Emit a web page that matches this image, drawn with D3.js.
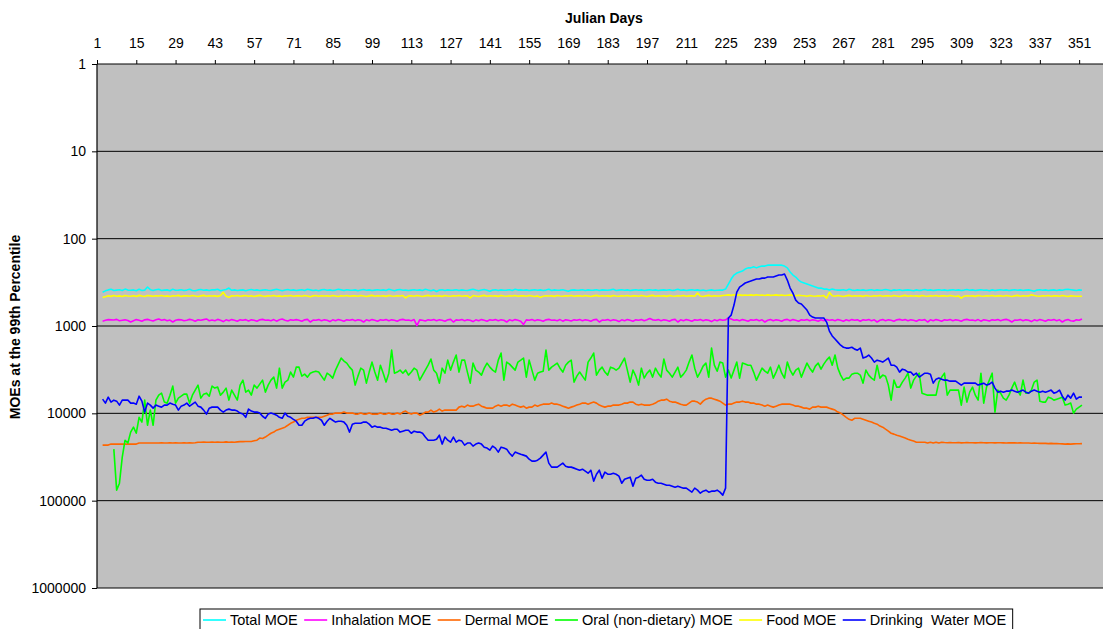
<!DOCTYPE html>
<html><head><meta charset="utf-8">
<script src="https://cdn.jsdelivr.net/npm/d3@7/dist/d3.min.js"></script>
<style>
body{margin:0;background:#fff}
svg text{font-family:"Liberation Sans",Arial,sans-serif;fill:#000}
</style>
</head><body>
<svg id="chart" width="1103" height="629"></svg>
<script>
// ---------- data ----------
const days = d3.range(3, 353); // Julian day of each value (days 3..352)
const xTickLabels = [1,15,29,43,57,71,85,99,113,127,141,155,169,183,197,211,225,239,253,267,281,295,309,323,337,351];
const yTickValues = [1,10,100,1000,10000,100000,1000000];
const seriesNames = ["Total MOE","Inhalation MOE","Dermal MOE","Oral (non-dietary) MOE","Food MOE","Drinking  Water MOE"];
const seriesColors = ["#00FFFF","#FF00FF","#FF6600","#00FF00","#FFFF00","#0000FF"];

const totalMOE = [
410,396,386,380,392,388,384,392,378,388, 390,386,395,380,392,388,358,384,392,385,
380,392,388,386,394,380,390,388,384,392, 388,380,392,395,386,382,390,386,392,384,
386,380,394,388,382,368,390,386,392,388, 386,394,388,382,390,386,392,388,384,390,
392,386,380,388,394,388,382,390,386,392, 388,384,392,380,386,392,388,394,386,382,
390,386,392,388,380,386,392,384,388,390, 386,394,388,382,390,386,392,388,384,390,
386,392,380,388,394,386,382,390,388,392, 388,384,390,386,392,380,388,394,386,402,
388,384,392,386,390,388,384,392,386,390, 392,386,380,388,394,388,382,390,400,388,
384,392,386,390,388,384,392,380,388,386, 390,386,392,388,384,390,386,392,388,380,
392,386,390,388,384,392,400,388,386,390, 388,384,392,386,390,388,384,392,386,388,
390,386,380,392,388,384,390,386,392,388, 384,390,386,392,388,384,390,386,392,388,
386,390,384,392,388,380,390,386,392,388, 384,390,386,392,388,394,390,386,392,390,
388,388,378,331,290,261,248,241,235,223, 216,216,210,216,210,206,206,201,201,201,
201,201,201,206,216,241,261,275,298,314, 322,331,340,349,358,368,368,378,378,388,
378,384,388,388,384,392,380,388,392,386, 390,386,392,388,384,392,386,390,388,382,
388,394,386,390,384,392,388,386,390,394, 386,392,388,382,390,386,392,388,384,390,
386,392,388,384,390,386,392,388,382,390, 386,392,388,384,390,388,394,386,392,388,
384,390,386,392,388,384,390,386,392,388, 386,392,400,388,384,390,386,392,388,386,
392,386,390,382,380,384,388,392,386,390];

const inhalationMOE = [
880,860,845,850,855,840,870,860,850,865, 900,870,845,860,880,850,840,860,875,850,
830,860,845,870,855,900,860,845,850,870, 860,840,855,880,850,860,845,830,870,855,
870,840,860,890,850,870,845,860,880,850, 860,845,875,850,860,880,850,840,860,855,
870,845,880,850,830,860,875,850,860,845, 860,880,850,840,900,855,860,845,870,850,
860,890,850,870,845,860,880,850,860,845, 870,850,860,900,850,870,845,860,880,850,
860,845,870,850,860,880,850,840,860,855, 870,845,990,850,860,875,850,860,845,870,
850,860,880,850,840,900,850,860,845,870, 850,860,890,850,870,845,860,880,850,860,
845,870,850,860,900,850,870,845,860,880, 960,850,860,845,870,850,860,880,850,840,
860,855,870,845,880,850,860,875,850,860, 845,870,850,860,880,850,840,900,855,860,
845,870,850,860,890,850,870,845,860,880, 850,860,845,870,850,820,850,860,845,870,
850,860,880,850,840,900,850,870,845,860, 880,850,860,845,870,850,860,890,850,870,
845,860,850,810,830,860,850,870,845,860, 880,850,860,845,870,850,900,860,845,870,
850,860,880,850,840,870,845,860,880,850, 860,845,870,850,860,880,850,870,845,860,
850,870,845,860,880,850,870,845,860,850, 880,850,860,845,870,850,900,860,845,870,
850,860,880,850,840,860,845,870,850,860, 880,850,860,845,900,850,870,845,860,880,
850,860,845,870,850,860,880,850,840,860, 855,870,845,880,850,860,875,850,860,845,
870,850,840,860,900,855,860,845,870,850, 860,890,850,870,845,860,880,850,860,845,
870,850,900,860,845,870,880,850,860,830];

const dermalMOE = [
23100,23100,23100,22500,22500,22500,22500,22500,22500,22500, 22500,22500,22500,21900,21900,21900,21900,21900,21900,21900,
21900,21800,21900,21900,21700,21900,21800,21900,21900,21700, 21900,21800,21900,21700,21400,21400,21300,21400,21400,21300,
21400,21300,21400,21400,21200,21400,21300,21400,21200,21100, 21100,21000,21000,21000,20600,20300,19200,19400,18700,17800,
16900,16400,15600,15200,14800,14400,13700,13000,12600,12000, 11700,11400,11400,11100,11100,11100,11100,11100,11100,10800,
10500,10200,10200,9940,9940,9940,9680,9940,9940,9940, 10200,10200,9940,10200,10200,9940,10200,10200,10200,9940,
10200,10200,9940,10200,10200,9940,10200,9680,9430,9940, 10200,9940,9940,10500,10200,9680,9680,9180,9680,9430,
8950,9430,9180,9180,9180,9180,9180,8490,8270,8490, 8050,8270,8270,8050,7850,8270,8490,8720,8720,8720,
8270,8050,8270,8050,8050,8270,7850,8050,8270,8490, 8270,8720,8490,8490,8050,8270,8050,7850,7850,7850,
7640,7850,7850,8050,8270,8490,8720,8490,8270,8050, 7850,7640,7640,7850,7640,7440,7640,8050,8270,8490,
8270,8270,8050,8050,8050,7850,7640,7640,7440,7440, 7850,8050,7850,8050,8050,8050,7850,7640,7250,7060,
7060,6880,7250,7440,7440,7640,7850,8050,8050,7640, 7250,7250,7440,7850,7250,6880,6700,6700,6880,7060,
7250,7640,8050,7850,7850,7640,7440,7440,7250,7440, 7440,7640,7640,7850,7850,8050,8270,8050,8270,8490,
8270,8050,7850,7850,7850,7850,8050,8270,8270,8490, 8720,8720,8950,8490,8490,8270,8490,8490,8490,8720,
8950,9180,9680,9940,10500,11100,11700,12000,11400,11400, 11400,11700,12000,12300,12600,13000,13300,14000,14400,15200,
16000,16900,17300,17800,18200,18700,19200,19800,20300,20800, 21400,21400,21400,21400,21900,21400,21900,21400,21900,21400,
21600,21700,21600,21700,21700,21600,21800,21700,21600,21700, 21700,21800,21700,21600,21700,21800,21700,21700,21800,21700,
21700,21800,21900,21800,21700,21800,21900,21800,21900,21900, 21900,22000,21900,22000,22100,22000,22100,22200,22100,22200,
22200,22300,22400,22500,22400,22500,22400,22300,22300,22200];

const oralMOE = [
null,null,null,null,25700,75800,63100,31700,20300,21900, 16400,14400,16900,11100,12600,7060,13700,9180,13700,7060,
6190,5870,7440,7640,6190,4880,7640,6700,6360,6030, 6030,7640,6190,5420,4750,6700,6030,5870,6360,4880,
5140,5010,6190,5720,5140,7060,5420,6190,7060,4750, 4170,5720,5420,6190,4750,5140,4630,4170,5720,4750,
4170,3850,5140,3040,5140,4390,4170,3370,3850,2960, 2960,3750,3560,3850,3470,3370,3290,3370,3750,4170,
3470,3650,3950,3200,2730,2330,2520,2660,2960,3200, 4750,3750,3040,3200,4510,3370,2590,3370,4170,2810,
3470,4390,3470,1890,3470,3370,3200,3470,3200,3650, 3370,3040,3200,4170,3650,3200,2810,2390,3200,3470,
4510,3040,3470,2460,3200,2590,2150,3370,2460,2460, 3370,4510,2660,3200,3370,3650,3040,2660,2960,3200,
3370,2460,2040,4170,2590,2730,2960,3200,2590,2460, 2330,3850,2460,3200,4170,3470,3370,3290,1890,3200,
2960,2810,2660,3040,3370,2810,2590,2460,4390,3750, 3370,3750,4170,2590,2330,2040,3650,3200,2960,3370,
3650,2960,3040,3200,3040,2660,2330,3200,4390,3200, 3750,4750,3040,3950,3470,3200,3850,3040,3470,3850,
2390,3200,3470,3850,3370,2960,3850,3560,3200,2590, 2150,3040,3850,3370,2880,2660,3850,1790,2810,3290,
2590,2660,3850,3200,3950,3200,2590,3950,2660,2730, 2810,2810,3370,4170,3560,3040,3290,3470,2960,3950,
3370,2810,3470,3950,2590,3200,3650,3200,3040,3850, 3200,2660,3040,3370,2880,2660,3120,2730,2460,2270,
2810,2150,3040,3650,4170,3950,3950,3560,3470,3470, 3650,4510,3200,3650,3950,4170,2810,3950,3650,3750,
4750,7060,4170,5010,5010,4390,3950,3470,5140,4170, 3750,3470,5870,6030,6190,6190,6190,6190,4390,3850,
3470,6190,5420,5420,5420,5420,8050,5010,7440,5720, 5010,6190,7060,3470,7640,5010,4170,3470,9680,5420,
5870,6700,7060,6190,5140,4390,5420,6190,4170,5870, 5870,5420,4390,4170,7250,7440,7440,6530,6700,7060,
6880,6700,6530,8050,7850,7640,9940,8950,8490,8050];

const foodMOE = [
470,462,450,458,448,456,452,460,448,454, 456,450,458,446,454,460,448,452,456,450,
454,448,456,452,460,450,454,446,458,452, 450,456,448,454,460,452,446,456,450,454,
452,458,448,412,456,470,450,454,448,456, 452,448,456,450,460,452,446,454,458,450,
454,448,456,452,460,450,454,448,456,452, 450,456,448,454,462,452,448,456,450,454,
452,456,448,454,460,450,454,448,456,452, 450,456,448,454,460,452,446,456,450,454,
452,458,448,454,456,450,454,448,476,452, 450,456,448,454,460,452,446,456,450,454,
452,458,448,454,456,450,454,448,456,452, 450,476,448,454,460,452,446,456,450,454,
452,458,448,454,456,450,454,448,456,452, 450,456,448,454,460,452,470,456,450,454,
452,458,448,454,456,450,454,448,456,452, 450,456,448,454,460,452,446,456,450,454,
452,458,448,454,456,450,454,448,456,452, 450,456,448,454,460,452,446,456,450,454,
452,458,448,454,456,450,454,448,456,452, 450,456,420,454,460,452,446,456,450,454,
452,448,444,440,446,438,444,440,446,442, 444,440,446,438,444,442,448,440,446,444,
440,446,442,448,444,440,446,450,444,448, 450,456,448,454,456,450,454,448,480,412,
450,456,448,454,460,452,446,456,450,454, 452,458,448,454,456,450,454,448,456,452,
450,456,448,454,460,452,446,456,450,454, 452,458,448,454,456,450,454,448,456,452,
450,456,448,454,460,452,480,456,450,454, 452,458,448,454,456,450,454,448,456,452,
450,456,448,454,460,452,446,456,450,454, 452,440,448,454,456,450,454,448,456,452,
450,456,448,454,460,452,454,456,456,456];

const drinkingWaterMOE = [
6880,7640,6530,7440,7060,7250,8050,7060,7060,7060, 7640,7640,7850,6360,7250,9680,7640,8050,8720,8050,
8270,8490,8050,8050,7640,7850,8050,9180,8270,8050, 7640,8270,7850,7440,8270,8490,9180,10200,8720,8490,
8490,8490,9180,9680,9180,8950,9180,9180,9430,9940, 10200,11100,8950,9430,9680,9680,9940,10800,11400,10200,
9940,10200,10500,11100,11400,9940,10800,11100,11700,12300, 13700,13700,12300,11700,11400,11400,11100,11400,12000,13700,
12300,11400,12000,12600,12300,12300,12600,13700,16400,13300, 13000,13000,13000,12600,12600,13300,14400,14000,14400,14400,
14800,14800,15200,15600,15200,15200,16400,16000,15600,15600, 16900,16000,16400,16400,16900,18700,20300,20300,20300,19800,
17800,22500,18700,20300,21400,18700,21400,20300,20800,23100, 21900,21900,23700,22500,21900,22500,24400,25000,26400,23700,
25000,27800,24400,25000,25700,28600,30900,27800,28600,29400, 30100,30900,33500,35300,35300,34400,32600,30100,27800,37200,
41300,41300,41300,39200,37200,40300,41300,41300,42400,43600, 44800,43600,46000,48500,44800,59800,49800,44800,55300,47200,
49800,49800,48500,49800,52400,63100,56800,55300,53800,68200, 55300,53800,51100,56800,58300,58300,56800,61400,63100,63100,
64800,66500,66500,68200,70100,68200,70100,71900,71900,75800, 79900,71900,75800,82100,77800,75800,79900,77800,77800,75800,
79900,86500,71900,811,750,576,409,358,340,322, 314,306,298,290,290,283,283,275,275,275,
268,261,261,254,298,368,420,505,546,561, 607,657,750,790,811,811,811,811,902,1143,
1300,1410,1530,1660,1750,1790,1790,1750,1840,1890, 1790,2330,2270,2150,2330,2590,2460,2520,2590,2460,
2330,2810,2810,2960,3370,3120,3200,3370,3370,3650, 3470,3850,3650,3470,3470,3560,4510,4060,3950,4060,
4170,4170,4280,4280,4280,4510,4750,4510,4510,4510, 4510,4510,4750,4630,4510,4750,4630,4390,5140,5720,
5570,5720,5570,5570,5420,5570,5720,5570,5420,5720, 5870,5570,5420,5570,5720,5570,5720,5570,5420,5870,
5720,5420,6360,7060,6190,6700,5870,6880,6530,6530];

const series = [totalMOE, inhalationMOE, dermalMOE, oralMOE, foodMOE, drinkingWaterMOE];

// ---------- layout ----------
const svg = d3.select("#chart");
const plot = {left: 97, top: 64, right: 1103, bottom: 588};
const x = d3.scaleLinear().domain([1, 359.5]).range([plot.left, plot.right]);
const y = d3.scaleLog().domain([1, 1000000]).range([plot.top, plot.bottom]);

svg.append("rect").attr("x", plot.left).attr("y", plot.top)
  .attr("width", plot.right - plot.left).attr("height", plot.bottom - plot.top)
  .attr("fill", "#C0C0C0");

// horizontal gridlines
svg.append("g").selectAll("line").data(yTickValues.slice(1)).join("line")
  .attr("x1", plot.left).attr("x2", plot.right)
  .attr("y1", d => y(d)).attr("y2", d => y(d))
  .attr("stroke", "#000").attr("stroke-width", 1);

// clip
svg.append("clipPath").attr("id", "clip").append("rect")
  .attr("x", plot.left).attr("y", plot.top)
  .attr("width", plot.right - plot.left).attr("height", plot.bottom - plot.top);

const line = d3.line()
  .defined(d => d[1] != null)
  .x(d => x(d[0])).y(d => y(d[1]));

const gLines = svg.append("g").attr("clip-path", "url(#clip)");
series.forEach((vals, i) => {
  gLines.append("path")
    .datum(days.map((d, j) => [d, vals[j]]))
    .attr("d", line)
    .attr("fill", "none")
    .attr("stroke", seriesColors[i])
    .attr("stroke-width", 1.6)
    .attr("stroke-linejoin", "round");
});

// top axis (Julian days)
const xAxis = d3.axisTop(x).tickValues(xTickLabels).tickSize(4).tickPadding(12).tickFormat(d3.format("d"));
const gx = svg.append("g").attr("transform", `translate(0,${plot.top})`).call(xAxis);
gx.select(".domain").remove();
gx.selectAll(".tick line").attr("stroke", "#000");
gx.selectAll(".tick text").attr("font-size", 14).attr("font-family", '"Liberation Sans",Arial,sans-serif').attr("fill", "#000");
svg.append("line").attr("x1", plot.left).attr("x2", plot.right)
  .attr("y1", plot.top).attr("y2", plot.top).attr("stroke", "#000").attr("stroke-width", 1.2);

// left axis (log MOE)
const yAxis = d3.axisLeft(y).tickValues(yTickValues).tickSize(5).tickPadding(6).tickFormat(d3.format("d"));
const gy = svg.append("g").attr("transform", `translate(${plot.left},0)`).call(yAxis);
gy.select(".domain").remove();
gy.selectAll(".tick line").attr("stroke", "#000");
gy.selectAll(".tick text").attr("font-size", 14).attr("font-family", '"Liberation Sans",Arial,sans-serif').attr("fill", "#000");
svg.append("line").attr("x1", plot.left).attr("x2", plot.left)
  .attr("y1", plot.top).attr("y2", plot.bottom).attr("stroke", "#000").attr("stroke-width", 1.2);

// titles
svg.append("text").attr("x", 604).attr("y", 23).attr("text-anchor", "middle")
  .attr("font-size", 14).attr("font-weight", "bold").text("Julian Days");
svg.append("text").attr("transform", "translate(20,327) rotate(-90)").attr("text-anchor", "middle")
  .attr("font-size", 14).attr("font-weight", "bold").text("MOEs at the 99th Percentile");

// legend
const lg = svg.append("g");
const box = lg.append("rect").attr("x", 200).attr("y", 609).attr("height", 22)
  .attr("fill", "#fff").attr("stroke", "#000").attr("stroke-width", 1);
let cx = 203;
seriesNames.forEach((name, i) => {
  lg.append("line").attr("x1", cx).attr("x2", cx + 23).attr("y1", 620).attr("y2", 620)
    .attr("stroke", seriesColors[i]).attr("stroke-width", 1.6);
  const t = lg.append("text").attr("x", cx + 27).attr("y", 625).attr("font-size", 14.5)
    .attr("xml:space", "preserve").style("white-space", "pre").text(name);
  cx += 27 + t.node().getComputedTextLength() + 6.5;
});
box.attr("width", cx - 200);
</script>
</body></html>
